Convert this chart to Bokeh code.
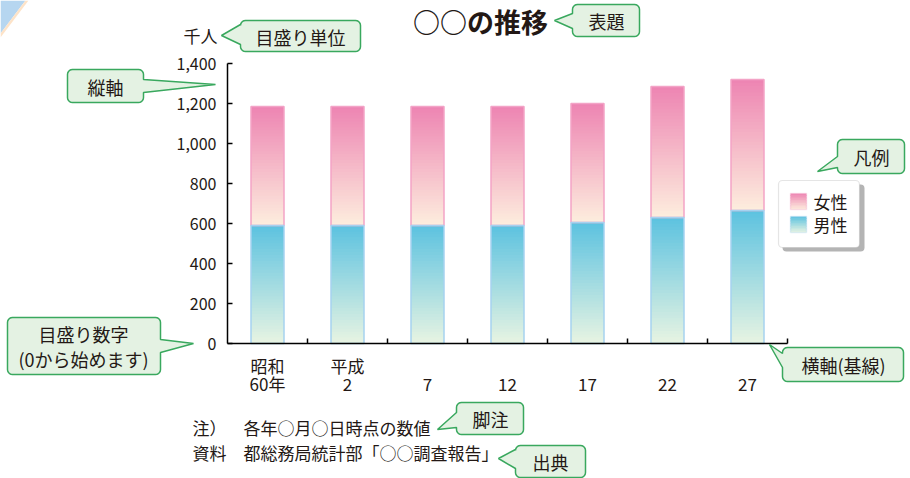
import math
from bokeh.plotting import figure
from bokeh.models import (Range1d, FixedTicker, NumeralTickFormatter, ColumnDataSource,
                          Label, BoxAnnotation, PolyAnnotation)
from bokeh.embed import file_html
from bokeh.resources import INLINE

# ---------------- data ----------------
categories = ["昭和\n60年", "平成\n2", "\n7", "\n12", "\n17", "\n22", "\n27"]
male = [590, 590, 590, 590, 605, 630, 665]
female = [595, 595, 595, 595, 595, 655, 655]
y_ticks = [0, 200, 400, 600, 800, 1000, 1200, 1400]
series_names = ["女性", "男性"]

title_text = "○○の推移"
unit_text = "千人"
note_heads = ["注）", "資料"]
note_texts = ["各年○月○日時点の数値", "都総務局統計部「○○調査報告」"]

# ---------------- style ----------------
FONT = "Noto Sans CJK JP"
TXT = "#231815"
MALE_TOP, MALE_BOT = (92, 194, 224), (232, 244, 226)
FEM_TOP, FEM_BOT = (237, 132, 178), (253, 238, 222)
MALE_EDGE, FEM_EDGE = "#a6d2f0", "#f3a3c6"
CALL_FILL, CALL_EDGE = "#e4f2e3", "#39a85e"

W, H = 910, 478
F_L, F_R, F_T, F_B = 227, 787, 63, 343   # plot area in canvas pixels

n = len(categories)
YMAX = 1400.0


def dx(px):
    return (px - F_L) / ((F_R - F_L) / n) - 0.5


def dy(py):
    return (F_B - py) / ((F_B - F_T) / YMAX)


def hexc(c):
    return "#%02x%02x%02x" % tuple(int(round(v)) for v in c)


def lerp(a, b, t):
    return tuple(a[i] + (b[i] - a[i]) * t for i in range(3))


p = figure(width=W, height=H, x_range=Range1d(dx(0), dx(W)), y_range=Range1d(dy(H), dy(0)),
           output_backend="svg", toolbar_location=None, title=None,
           min_border=0, min_border_left=0, min_border_right=0,
           min_border_top=0, min_border_bottom=0)
p.outline_line_color = None
p.xgrid.visible = False
p.ygrid.visible = False
p.background_fill_color = "white"
p.border_fill_color = "white"

# ---------------- gradient bars ----------------
NS = 40
bw = 33 / ((F_R - F_L) / n)
xs, bots, tops, cols = [], [], [], []
for i in range(n):
    segs = [(0, male[i], MALE_BOT, MALE_TOP), (male[i], male[i] + female[i], FEM_BOT, FEM_TOP)]
    for (b0, b1, cb, ct) in segs:
        step = (b1 - b0) / NS
        for k in range(NS):
            lo = b0 + step * k
            hi = min(b1, lo + step * 1.6)
            xs.append(i)
            bots.append(lo)
            tops.append(hi)
            cols.append(hexc(lerp(cb, ct, (k + 0.5) / NS)))
p.vbar(x="x", bottom="b", top="t", width=bw, fill_color="c", line_color=None,
       source=ColumnDataSource(dict(x=xs, b=bots, t=tops, c=cols)))
idx = list(range(n))
totals = [m + f for m, f in zip(male, female)]
p.vbar(x=idx, bottom=male, top=totals, width=bw, fill_color=None,
       line_color=FEM_EDGE, line_width=1.5)
p.vbar(x=idx, bottom=[0] * n, top=male, width=bw, fill_color=None,
       line_color=MALE_EDGE, line_width=1.5)

# ---------------- axes ----------------
xa = p.xaxis[0]
xa.fixed_location = 0
xa.bounds = (-0.5, n - 0.5)
xa.ticker = FixedTicker(ticks=idx, minor_ticks=[i + 0.5 for i in idx])
xa.major_label_overrides = {i: categories[i] for i in idx}
xa.major_tick_in = 0
xa.major_tick_out = 0
xa.minor_tick_in = 5
xa.minor_tick_out = 0
xa.minor_tick_line_color = "black"
xa.minor_tick_line_width = 1.5
xa.axis_line_color = "black"
xa.axis_line_width = 1.5
xa.major_label_standoff = 9
xa.major_label_text_font = FONT
xa.major_label_text_font_size = "17px"
xa.major_label_text_color = TXT
xa.major_label_text_line_height = 0.74

ya = p.yaxis[0]
ya.fixed_location = -0.5
ya.bounds = (0, YMAX)
ya.ticker = FixedTicker(ticks=y_ticks, minor_ticks=[])
ya.formatter = NumeralTickFormatter(format="0,0")
ya.major_tick_in = 5
ya.major_tick_out = 0
ya.major_tick_line_color = "black"
ya.major_tick_line_width = 1.5
ya.minor_tick_line_color = None
ya.axis_line_color = "black"
ya.axis_line_width = 1.5
ya.major_label_standoff = 11
ya.major_label_text_font = FONT
ya.major_label_text_font_size = "16px"
ya.major_label_text_color = TXT


def label(px, py, text, size="18px", align="center", bold=False):
    p.add_layout(Label(x=dx(px), y=dy(py), text=text, text_font=FONT, text_font_size=size,
                       text_color=TXT, text_align=align, text_baseline="middle",
                       text_font_style="bold" if bold else "normal"))


def poly(pts, fill, line=None, lw=1.5):
    p.add_layout(PolyAnnotation(xs=[dx(a) for a, b in pts], ys=[dy(b) for a, b in pts],
                                fill_color=fill, fill_alpha=1.0,
                                line_color=line, line_width=lw, line_alpha=1.0))


# corner decoration
poly([(0, 0), (25, 0), (0, 33)], "#b6d6f0", None)
poly([(25, 0), (28, 0), (0, 37), (0, 33)], "#fde3c8", None)

# title & unit
label(480, 21, title_text, size="27px", bold=True)
label(200, 35, unit_text, size="17px")


# ---------------- callouts ----------------
def callout(x0, y0, x1, y1, side, b1, b2, tip, r=5, nn=5):
    pts = []

    def arc(cx, cy, a0, a1):
        for k in range(nn + 1):
            a = math.radians(a0 + (a1 - a0) * k / nn)
            pts.append((cx + r * math.cos(a), cy + r * math.sin(a)))
    arc(x0 + r, y0 + r, 180, 270)
    if side == "top":
        pts.extend([(b1, y0), tip, (b2, y0)])
    arc(x1 - r, y0 + r, 270, 360)
    if side == "right":
        pts.extend([(x1, b1), tip, (x1, b2)])
    arc(x1 - r, y1 - r, 0, 90)
    if side == "bottom":
        pts.extend([(b2, y1), tip, (b1, y1)])
    arc(x0 + r, y1 - r, 90, 180)
    if side == "left":
        pts.extend([(x0, b2), tip, (x0, b1)])
    poly(pts, CALL_FILL, CALL_EDGE)


callout(240, 20, 360, 51, "left", 24, 44, (221, 35))
label(300, 36, "目盛り単位")
callout(572, 4, 639, 36, "left", 13, 28, (554, 20))
label(606, 20, "表題")
callout(67, 69, 143, 102, "right", 79, 92, (215, 84))
label(105, 86, "縦軸")
callout(7, 317, 160, 374, "right", 339, 352, (193, 343))
label(83, 333, "目盛り数字")
label(83, 358, "(0から始めます)")
callout(837, 139, 904, 173, "left", 156, 167, (817, 171))
label(871, 156, "凡例")
callout(782, 347, 903, 381, "left", 353, 367, (769, 344))
label(843, 364, "横軸(基線)")
callout(456, 402, 523, 434, "left", 412, 427, (437, 429))
label(490, 418, "脚注")
callout(515, 445, 585, 477, "left", 449, 468, (498, 458))
label(550, 461, "出典")

# ---------------- footnotes ----------------
for k, (hd, tx) in enumerate(zip(note_heads, note_texts)):
    yy = 427 + 25 * k
    label(192, yy, hd, size="17px", align="left")
    label(243, yy, tx, size="17px", align="left")

# ---------------- legend ----------------
p.add_layout(BoxAnnotation(left=dx(782), right=dx(864), top=dy(184), bottom=dy(251),
                           fill_color="#b4b4b4", fill_alpha=1.0, line_color=None,
                           border_radius=4))
p.add_layout(BoxAnnotation(left=dx(778), right=dx(859), top=dy(180), bottom=dy(247),
                           fill_color="white", fill_alpha=1.0, line_color="#a8a8a8",
                           line_width=1.2, border_radius=4))
leg = [(series_names[0], FEM_TOP, FEM_BOT, FEM_EDGE, 193),
       (series_names[1], MALE_TOP, MALE_BOT, MALE_EDGE, 216)]
NSW = 10
for name, ct, cb, edge, top in leg:
    for k in range(NSW):
        y0 = top + 16 * k / NSW
        y1 = min(top + 16, top + 16 * (k + 1.6) / NSW)
        p.add_layout(BoxAnnotation(left=dx(790), right=dx(806), top=dy(y0), bottom=dy(y1),
                                   fill_color=hexc(lerp(ct, cb, (k + 0.5) / NSW)),
                                   fill_alpha=1.0, line_color=None))
    p.add_layout(BoxAnnotation(left=dx(790), right=dx(806), top=dy(top), bottom=dy(top + 16),
                               fill_color=None, line_color=edge, line_width=1.5))
    label(813, top + 8, name, size="17px", align="left")

open("out.html", "w").write(file_html(p, INLINE))
